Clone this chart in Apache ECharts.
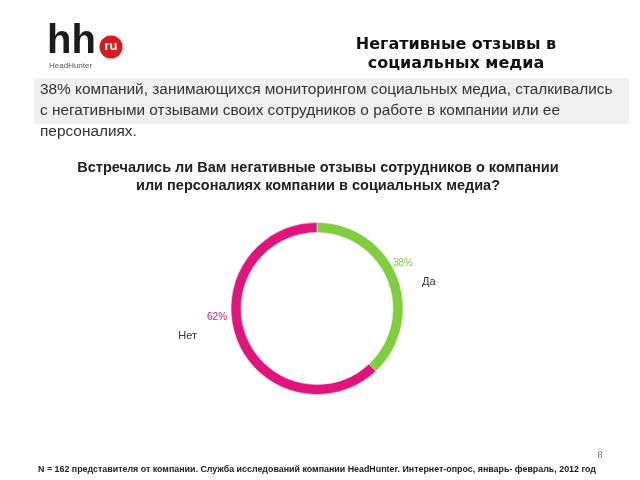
<!DOCTYPE html>
<html><head><meta charset="utf-8">
<script src="https://cdn.jsdelivr.net/npm/echarts@6/dist/echarts.min.js"></script>
<style>html,body{margin:0;padding:0;background:#fff}#c{width:640px;height:480px}</style>
</head><body><div id="c"></div>
<script>
const categories = ['Да', 'Нет'];
const values = [38, 62];
const colors = ['#7fcf3c', '#e2147c'];
const headerLines = ['Негативные отзывы в', 'социальных медиа'];
const paragraphLines = [
  '38% компаний, занимающихся мониторингом социальных медиа, сталкивались',
  'с негативными отзывами своих сотрудников о работе в компании или ее',
  'персоналиях.'
];
const questionLines = [
  'Встречались ли Вам негативные отзывы сотрудников о компании',
  'или персоналиях компании в социальных медиа?'
];
const footerText = 'N = 162 представителя от компании. Служба исследований компании HeadHunter. Интернет-опрос, январь- февраль, 2012 год';
const pageNumber = '8';

const chart = echarts.init(document.getElementById('c'), null, {renderer: 'canvas'});
const pieData = categories.map((c, i) => ({name: c, value: values[i], itemStyle: {color: colors[i]}}));
const pctOffsets = [[-9, -14], [-5, -23]];
const nameOffsets = [[20, 5], [-35, -4]];

chart.setOption({
  animation: false,
  backgroundColor: '#ffffff',
  graphic: [
    {type: 'rect', shape: {x: 34, y: 78, width: 595, height: 46}, style: {fill: '#f0f0f0'}, z: -10},
    {type: 'text', x: 47, y: 42, style: {text: 'hh', font: 'bold 40px "Liberation Sans", Arial', fill: '#1b1b1b', textVerticalAlign: 'middle'}},
    {type: 'circle', shape: {cx: 111, cy: 47, r: 11.5}, style: {fill: '#d71920'}},
    {type: 'text', x: 111, y: 46, style: {text: 'ru', font: 'bold 13px "Liberation Sans", Arial', fill: '#fff', textAlign: 'center', textVerticalAlign: 'middle'}},
    {type: 'text', x: 49, y: 66, style: {text: 'HeadHunter', font: '8px "Liberation Sans", Arial', fill: '#555', textVerticalAlign: 'middle'}},
    {type: 'text', x: 456, y: 45, style: {text: headerLines[0], font: 'bold 16px "DejaVu Sans"', fill: '#111', textAlign: 'center', textVerticalAlign: 'middle'}},
    {type: 'text', x: 456, y: 64, style: {text: headerLines[1], font: 'bold 16px "DejaVu Sans"', fill: '#111', textAlign: 'center', textVerticalAlign: 'middle'}},
    {type: 'text', x: 40, y: 90, style: {text: paragraphLines[0], font: '15.4px "Liberation Sans", Arial', fill: '#333', textVerticalAlign: 'middle'}},
    {type: 'text', x: 40, y: 111, style: {text: paragraphLines[1], font: '15.4px "Liberation Sans", Arial', fill: '#333', textVerticalAlign: 'middle'}},
    {type: 'text', x: 40, y: 132, style: {text: paragraphLines[2], font: '15.4px "Liberation Sans", Arial', fill: '#333', textVerticalAlign: 'middle'}},
    {type: 'text', x: 318, y: 168, style: {text: questionLines[0], font: 'bold 14.5px "Liberation Sans", Arial', fill: '#222', textAlign: 'center', textVerticalAlign: 'middle'}},
    {type: 'text', x: 318, y: 186, style: {text: questionLines[1], font: 'bold 14.5px "Liberation Sans", Arial', fill: '#222', textAlign: 'center', textVerticalAlign: 'middle'}},
    {type: 'text', x: 38, y: 470, style: {text: footerText, font: 'bold 8.9px "Liberation Sans", Arial', fill: '#222', textVerticalAlign: 'middle'}},
    {type: 'text', x: 600, y: 455, style: {text: pageNumber, font: '10px "Liberation Serif", serif', fill: '#666', textAlign: 'center', textVerticalAlign: 'middle'}}
  ],
  series: [
    {
      type: 'pie', center: [317, 308.5], radius: [76, 86], startAngle: 90, clockwise: true,
      silent: true, data: pieData,
      itemStyle: {borderColor: '#e8e8e8', borderWidth: 0.6},
      label: {show: true, position: 'outside', formatter: '{c}%', fontSize: 10, fontFamily: 'Liberation Sans, Arial',
        color: 'inherit'},
      labelLine: {show: false, length: 0, length2: 0},
      labelLayout: p => ({dx: pctOffsets[p.dataIndex][0], dy: pctOffsets[p.dataIndex][1]})
    },
    {
      type: 'pie', center: [317, 308.5], radius: [76, 86], startAngle: 90, clockwise: true,
      silent: true, z: 1,
      data: pieData.map(d => ({name: d.name, value: d.value, itemStyle: {color: 'transparent'}})),
      label: {show: true, position: 'outside', formatter: '{b}', fontSize: 11, fontFamily: 'Liberation Sans, Arial', color: '#333'},
      labelLine: {show: false, length: 0, length2: 0},
      labelLayout: p => ({dx: nameOffsets[p.dataIndex][0], dy: nameOffsets[p.dataIndex][1]})
    }
  ]
});
</script></body></html>
